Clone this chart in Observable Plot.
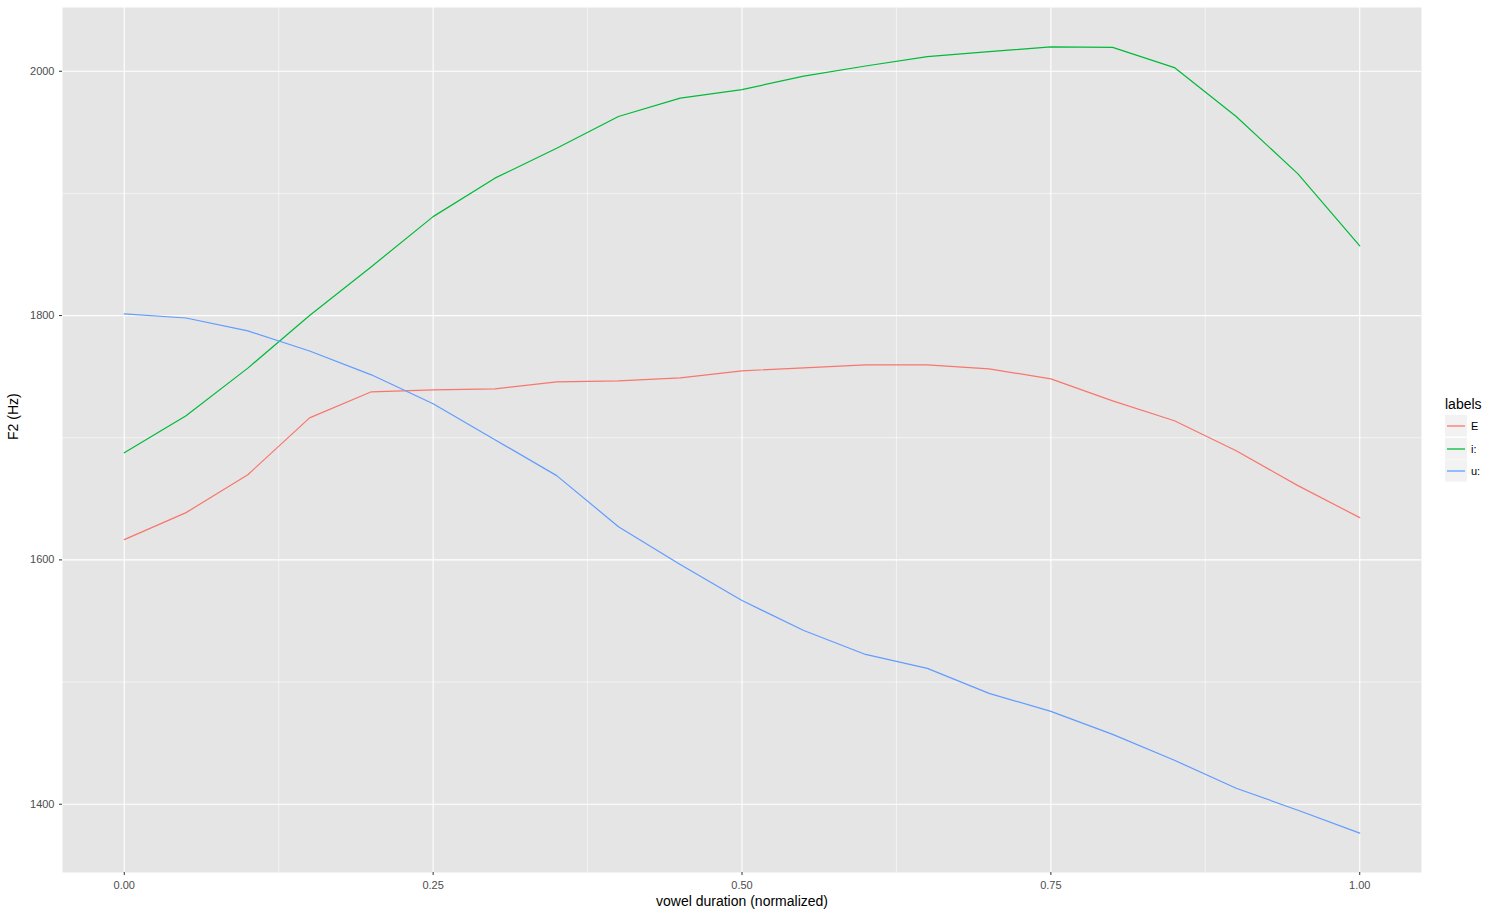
<!DOCTYPE html>
<html>
<head>
<meta charset="utf-8">
<script src="https://cdn.jsdelivr.net/npm/d3@7"></script>
<script src="https://cdn.jsdelivr.net/npm/@observablehq/plot@0.6"></script>
<style>
  html, body { margin: 0; padding: 0; background: #fff; }
  #wrap { position: relative; width: 1498px; height: 917px; font-family: "Liberation Sans", Arial, Helvetica, sans-serif; }
  #legend { position: absolute; left: 1445px; top: 394px; }
  #legend .title { font-size: 14px; color: #000; height: 21px; line-height: 20px; }
  #legend .row { display: flex; align-items: center; height: 22.5px; }
  #legend svg { display: block; }
  #legend .lab { font-size: 11px; color: #000; margin-left: 4px; }
</style>
</head>
<body>
<div id="wrap"></div>
<script>
const labels = ["E", "i:", "u:"];
const colors = ["#F8766D", "#00BA38", "#619CFF"];
const duration = [0, 0.05, 0.10, 0.15, 0.20, 0.25, 0.30, 0.35, 0.40, 0.45, 0.50,
                  0.55, 0.60, 0.65, 0.70, 0.75, 0.80, 0.85, 0.90, 0.95, 1.00];
const f2E = [1616.6, 1638.7, 1669.7, 1716.3, 1737.6, 1739.2, 1740.0, 1745.8, 1746.6, 1749.0, 1754.8,
             1757.2, 1759.7, 1759.7, 1756.4, 1748.2, 1730.2, 1713.9, 1689.4, 1660.8, 1634.6];
const f2I = [1687.7, 1718.0, 1757.0, 1800.0, 1840.0, 1881.0, 1912.5, 1937.0, 1963.0, 1978.0, 1985.0,
             1996.0, 2004.3, 2012.0, 2016.0, 2020.0, 2019.6, 2003.0, 1963.0, 1916.0, 1857.0];
const f2U = [1801.4, 1798.0, 1787.5, 1771.0, 1751.5, 1727.8, 1698.4, 1669.0, 1627.2, 1596.2, 1566.7,
             1542.2, 1522.6, 1511.2, 1490.7, 1476.0, 1457.2, 1436.0, 1413.1, 1395.1, 1376.3];
const xMajor = [0, 0.25, 0.5, 0.75, 1];
const xMinor = [0.125, 0.375, 0.625, 0.875];
const yMajor = [1400, 1600, 1800, 2000];
const yMinor = [1500, 1700, 1900];
const xTitle = "vowel duration (normalized)";
const yTitle = "F2 (Hz)";

const series = [f2E, f2I, f2U];
const data = [];
labels.forEach((lab, k) => duration.forEach((d, j) => data.push({label: lab, x: d, y: series[k][j]})));

const xr = d3.extent(duration), yr = d3.extent(data, d => d.y);
const xe = (xr[1] - xr[0]) * 0.05, ye = (yr[1] - yr[0]) * 0.05;

const chart = Plot.plot({
  width: 1498,
  height: 917,
  marginLeft: 62,
  marginRight: 77,
  marginTop: 7,
  marginBottom: 45,
  style: {fontFamily: "Liberation Sans, Arial, Helvetica, sans-serif", background: "transparent"},
  x: {domain: [xr[0] - xe, xr[1] + xe]},
  y: {domain: [yr[0] - ye, yr[1] + ye]},
  color: {domain: labels, range: colors},
  marks: [
    Plot.frame({fill: "#e5e5e5", stroke: null}),
    Plot.ruleX(xMinor, {stroke: "#fff", strokeWidth: 0.55}),
    Plot.ruleY(yMinor, {stroke: "#fff", strokeWidth: 0.55}),
    Plot.ruleX(xMajor, {stroke: "#fff", strokeWidth: 1.1}),
    Plot.ruleY(yMajor, {stroke: "#fff", strokeWidth: 1.1}),
    Plot.line(data, {x: "x", y: "y", z: "label", stroke: "label", strokeWidth: 1.2}),
    Plot.axisX(xMajor, {tickFormat: d3.format(".2f"), tickSize: 3, tickPadding: 6, fontSize: 11, label: null, fill: "#4d4d4d", stroke: "#333"}),
    Plot.axisY(yMajor, {tickFormat: d => String(d), tickSize: 3, tickPadding: 5, fontSize: 11, label: null, fill: "#4d4d4d", stroke: "#333"}),
    Plot.text([xTitle], {frameAnchor: "bottom", dy: 33, fontSize: 14, fill: "#000"}),
    Plot.text([yTitle], {frameAnchor: "left", dx: -49, rotate: -90, fontSize: 14, fill: "#000"})
  ]
});

const wrap = document.getElementById("wrap");
wrap.appendChild(chart);

const legend = document.createElement("div");
legend.id = "legend";
let html = '<div class="title">labels</div>';
labels.forEach((lab, k) => {
  html += `<div class="row"><svg width="22" height="22"><rect x="0" y="0" width="22" height="21.5" fill="#f2f2f2"/>` +
          `<line x1="2" x2="20" y1="11" y2="11" stroke="${colors[k]}" stroke-width="1.3"/></svg>` +
          `<div class="lab">${lab}</div></div>`;
});
legend.innerHTML = html;
wrap.appendChild(legend);
</script>
</body>
</html>
